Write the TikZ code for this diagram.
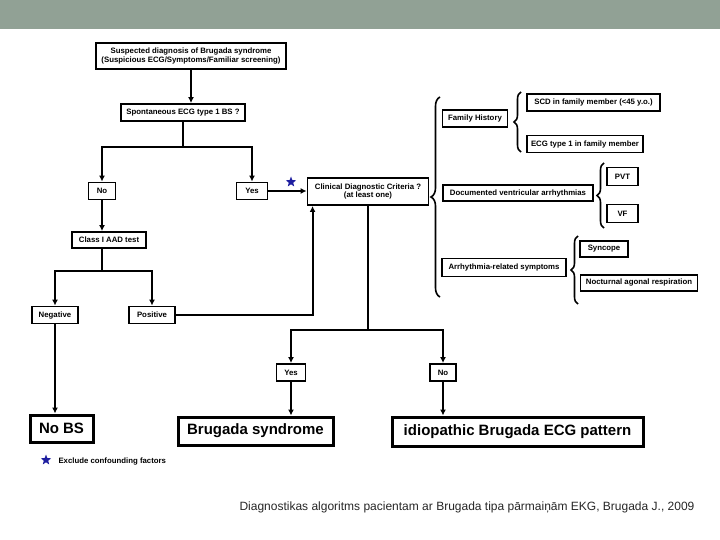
\documentclass[tikz,border=0pt]{standalone}
\usepackage{fontspec}
\setmainfont{Liberation Sans}
\usetikzlibrary{arrows.meta,decorations.pathreplacing,shapes.geometric}

\definecolor{barra}{RGB}{145,161,149}
\definecolor{azulest}{RGB}{30,30,160}

\tikzset{
  caja/.style={draw, line width=1.9pt, inner sep=0pt, align=center,
    font=\fontsize{7.8}{8.8}\selectfont\bfseries},
  cajagrande/.style={draw, line width=3pt, inner sep=0pt,
    font=\fontsize{15}{17}\selectfont\bfseries},
  flecha/.style={line width=1.9pt, -{Latex[length=6pt,width=6pt]}},
  linea/.style={line width=1.9pt},
  llave/.style={line width=1.6pt, decorate, decoration={brace, amplitude=#1}},
  llave/.default=7pt,
  estrella/.style={star, star points=5, star point ratio=2.4, fill=azulest,
    inner sep=0pt, minimum size=11pt},
}

\begin{document}
\begin{tikzpicture}[x=1pt,y=-1pt]
    \useasboundingbox (0,0) rectangle (720,540);

    % barra superior
    \fill[barra] (0,0) rectangle (720,29);

    % columna izquierda
    \node[caja, line width=2.6pt, minimum width=190pt, minimum height=26pt] (sospecha) at (191,56)
        {Suspected diagnosis of Brugada syndrome\\(Suspicious ECG/Symptoms/Familiar screening)};
    \node[caja, minimum width=124pt, minimum height=17pt] (espontaneo) at (183,112.5) {Spontaneous ECG type 1 BS ?};
    \node[caja, minimum width=27pt, minimum height=17pt] (no1) at (102,191) {No};
    \node[caja, minimum width=31pt, minimum height=17pt] (si1) at (252,191) {Yes};
    \node[caja, minimum width=74pt, minimum height=16pt] (clase) at (109,240) {Class I AAD test};
    \node[caja, minimum width=46pt, minimum height=17pt] (negativo) at (55,315) {Negative};
    \node[caja, minimum width=46pt, minimum height=17pt] (positivo) at (152,315) {Positive};

    % criterios clinicos
    \node[caja, minimum width=121pt, minimum height=27pt] (clinico) at (368,191.5)
        {Clinical Diagnostic Criteria ?\\(at least one)};
    \node[caja, minimum width=29pt, minimum height=17pt] (si2) at (291,372.5) {Yes};
    \node[caja, minimum width=26pt, minimum height=17pt] (no2) at (443,372.5) {No};

    % diagnosticos finales
    \node[cajagrande, minimum width=63pt, minimum height=27pt] (nobs) at (61.5,428.5) {No BS};
    \node[cajagrande, minimum width=155pt, minimum height=28pt] (brugada) at (255.5,431) {Brugada syndrome};
    \node[cajagrande, minimum width=251pt, minimum height=29pt] (idiopatico) at (517.5,431.5) {idiopathic Brugada ECG pattern};

    % lista de criterios
    \node[caja, minimum width=65pt, minimum height=17pt] (familia) at (475,118.5) {Family History};
    \node[caja, minimum width=133pt, minimum height=17pt] (scd) at (593.5,102.5) {SCD in family member (<45 y.o.)};
    \node[caja, minimum width=116pt, minimum height=17pt] (ecgfam) at (585,144) {ECG type 1 in family member};
    \node[caja, minimum width=150pt, minimum height=16pt] (arritmias) at (518,193) {Documented ventricular arrhythmias};
    \node[caja, minimum width=31pt, minimum height=18pt] (pvt) at (622.5,176.5) {PVT};
    \node[caja, minimum width=31pt, minimum height=18pt] (vf) at (622.5,213.5) {VF};
    \node[caja, minimum width=124pt, minimum height=18pt] (sintomas) at (504,267.5) {Arrhythmia-related symptoms};
    \node[caja, minimum width=48pt, minimum height=16pt] (sincope) at (604,249) {Syncope};
    \node[caja, minimum width=117pt, minimum height=16pt] (nocturna) at (639,283) {Nocturnal agonal respiration};

    % llaves
    \draw[llave=9pt] (440,297) -- (440,97);
    \draw[llave] (521,152) -- (521,92);
    \draw[llave] (604,228) -- (604,163);
    \draw[llave] (578,304) -- (578,236);

    % puntos de bifurcacion
    \coordinate (rama1) at (183,147);
    \coordinate (rama2) at (102,271);
    \coordinate (rama3) at (368,330);

    % flechas
    \draw[flecha] (sospecha.south) -- (sospecha.south |- espontaneo.north);
    \draw[linea] (espontaneo.south) -- (rama1);
    \draw[flecha] (rama1) -| (no1.north);
    \draw[flecha] (rama1) -| (si1.north);
    \draw[flecha] (si1.east) -- (si1.east -| clinico.west);
    \draw[flecha] (no1.south) -- (no1.south |- clase.north);
    \draw[linea] (clase.south -| rama2) -- (rama2);
    \draw[flecha] (rama2) -| (negativo.north);
    \draw[flecha] (rama2) -| (positivo.north);
    \draw[flecha] (positivo.east) -| ([xshift=6pt]clinico.south west);
    \draw[flecha] (negativo.south) -- (negativo.south |- nobs.north);
    \draw[linea] (clinico.south) -- (rama3);
    \draw[flecha] (rama3) -| (si2.north);
    \draw[flecha] (rama3) -| (no2.north);
    \draw[flecha] (si2.south) -- (si2.south |- brugada.north);
    \draw[flecha] (no2.south) -- (no2.south |- idiopatico.north);

    % asteriscos
    \node[estrella] (ast1) at (291,182) {};
    \node[estrella] (ast2) at (46,460) {};
    \node[anchor=west, font=\fontsize{7.8}{8.8}\selectfont\bfseries] (nota) at (55,461) {Exclude confounding factors};

    % pie
    \node[anchor=west, font=\fontsize{12}{14}\selectfont, text=black!85] (pie) at (236,507)
        {Diagnostikas algoritms pacientam ar Brugada tipa pārmaiņām EKG, Brugada J., 2009};

\end{tikzpicture}
\end{document}
